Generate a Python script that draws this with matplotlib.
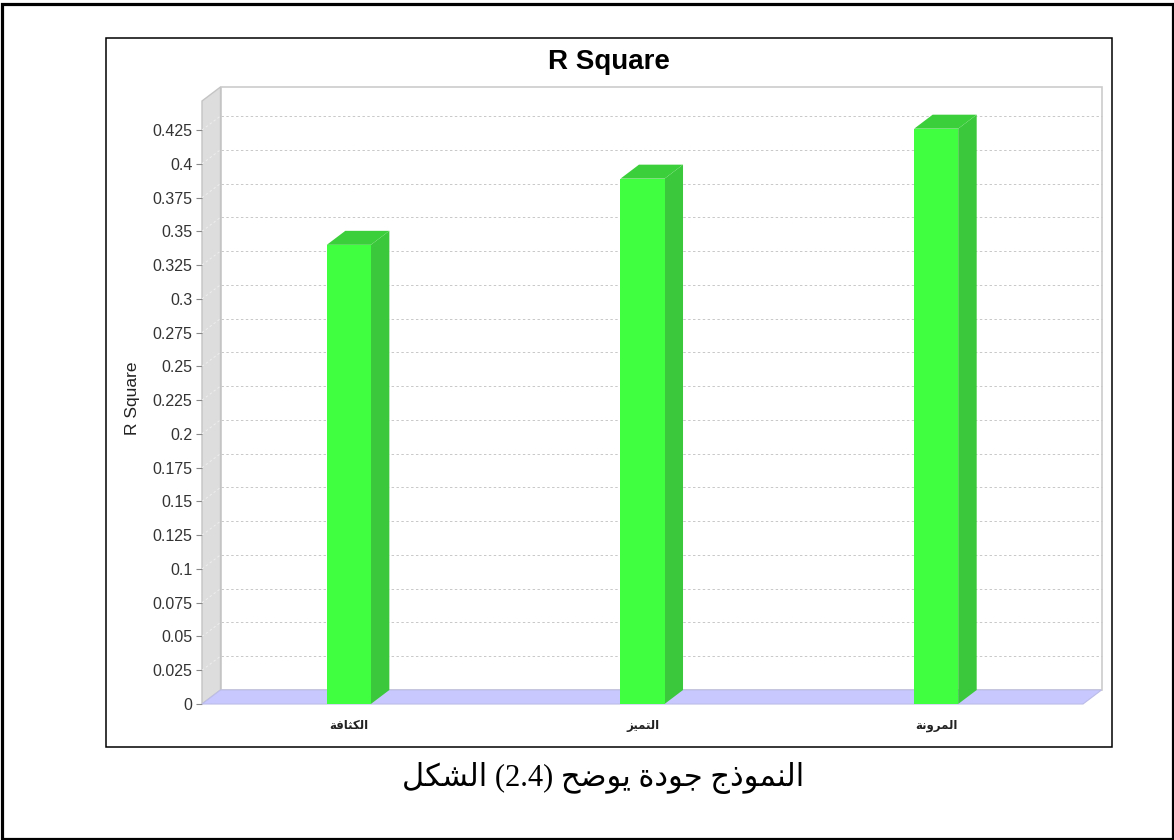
import matplotlib
matplotlib.use("Agg")
import matplotlib.pyplot as plt
from matplotlib.patches import Rectangle, Polygon

# ---------------- data ----------------
title = "R Square"
y_label = "R Square"
categories = ["الكثافة", "التميز", "المرونة"]
r_square = [0.340, 0.389, 0.426]
y_ticks = [0, 0.025, 0.05, 0.075, 0.1, 0.125, 0.15, 0.175, 0.2, 0.225,
           0.25, 0.275, 0.3, 0.325, 0.35, 0.375, 0.4, 0.425]
y_max = 0.4465
caption = "الشكل (2.4) يوضح جودة النموذج"

# ---------------- minimal Arabic shaping ----------------
FORMS = {
    "ا": (0xFE8D, 0xFE8E, None, None),
    "ل": (0xFEDD, 0xFEDE, 0xFEDF, 0xFEE0),
    "ش": (0xFEB5, 0xFEB6, 0xFEB7, 0xFEB8),
    "ك": (0xFED9, 0xFEDA, 0xFEDB, 0xFEDC),
    "ي": (0xFEF1, 0xFEF2, 0xFEF3, 0xFEF4),
    "و": (0xFEED, 0xFEEE, None, None),
    "ض": (0xFEBD, 0xFEBE, 0xFEBF, 0xFEC0),
    "ح": (0xFEA1, 0xFEA2, 0xFEA3, 0xFEA4),
    "ج": (0xFE9D, 0xFE9E, 0xFE9F, 0xFEA0),
    "د": (0xFEA9, 0xFEAA, None, None),
    "ة": (0xFE93, 0xFE94, None, None),
    "ن": (0xFEE5, 0xFEE6, 0xFEE7, 0xFEE8),
    "م": (0xFEE1, 0xFEE2, 0xFEE3, 0xFEE4),
    "ذ": (0xFEAB, 0xFEAC, None, None),
    "ث": (0xFE99, 0xFE9A, 0xFE9B, 0xFE9C),
    "ف": (0xFED1, 0xFED2, 0xFED3, 0xFED4),
    "ر": (0xFEAD, 0xFEAE, None, None),
    "ت": (0xFE95, 0xFE96, 0xFE97, 0xFE98),
    "ز": (0xFEAF, 0xFEB0, None, None),
}


def shape_word(word):
    if not any(c in FORMS for c in word):
        return word
    letters = list(word)
    out = []
    i = 0
    while i < len(letters):
        c = letters[i]
        if c not in FORMS:
            out.append(c)
            i += 1
            continue
        prev = letters[i - 1] if i > 0 else None
        nxt = letters[i + 1] if i + 1 < len(letters) else None
        joins_prev = prev in FORMS and FORMS[prev][2] is not None
        if c == "ل" and nxt == "ا":
            out.append(chr(0xFEFC if joins_prev else 0xFEFB))
            i += 2
            continue
        iso, fin, ini, med = FORMS[c]
        joins_next = ini is not None and nxt in FORMS
        if joins_prev and joins_next:
            g = med
        elif joins_prev:
            g = fin
        elif joins_next:
            g = ini
        else:
            g = iso
        out.append(chr(g))
        i += 1
    return "".join(reversed(out))


def shape_text(text):
    return " ".join(shape_word(w) for w in text.split(" "))


# ---------------- figure ----------------
W, H = 1174, 840
fig = plt.figure(figsize=(W / 100, H / 100), dpi=100)
fig.patch.set_facecolor("white")


def fx(px):
    return px / W


def fy(py):
    return 1 - py / H


# outer frame and chart panel
fig.patches.append(Rectangle((fx(1.5), fy(838.5)), fx(1171), 835 / H, transform=fig.transFigure,
                             fill=False, edgecolor="black", linewidth=2.3))
fig.patches.append(Rectangle((fx(106), fy(747)), fx(1006), 709 / H, transform=fig.transFigure,
                             fill=False, edgecolor="black", linewidth=1.1))

# plot front area (pixels)
left_px, right_px, top_px, bot_px = 202, 1083, 101, 704
ax = fig.add_axes([fx(left_px), fy(bot_px), fx(right_px - left_px), (bot_px - top_px) / H])
ncat = len(categories)
ax.set_xlim(0, ncat)
ax.set_ylim(0, y_max)
for s in ax.spines.values():
    s.set_visible(False)
ax.patch.set_visible(False)

# 3D depth in data units
depth_x_px, depth_y_px = 18.5, 14
DX = depth_x_px / (right_px - left_px) * ncat
DY = depth_y_px / (bot_px - top_px) * y_max

# back wall
ax.add_patch(Rectangle((DX, DY), ncat, y_max, facecolor="white", edgecolor="#cccccc",
                       linewidth=1.2, clip_on=False, zorder=0))
# left wall
ax.add_patch(Polygon([(0, 0), (0, y_max), (DX, y_max + DY), (DX, DY)], closed=True,
                     facecolor="#dddddd", edgecolor="#c4c4c4", linewidth=1.0,
                     clip_on=False, zorder=1))
# grid lines
for t in y_ticks[1:]:
    ax.plot([DX, ncat + DX], [t + DY, t + DY], color="#c8c8c8", linewidth=0.7,
            linestyle=(0, (2.5, 2.5)), clip_on=False, zorder=2)
    ax.plot([0, DX], [t, t + DY], color="#eeeeee", linewidth=0.7,
            linestyle=(0, (2.5, 2.5)), clip_on=False, zorder=2)
# floor
ax.add_patch(Polygon([(0, 0), (ncat, 0), (ncat + DX, DY), (DX, DY)], closed=True,
                     facecolor="#c8c8ff", edgecolor="#bcbce8", linewidth=0.8,
                     clip_on=False, zorder=3))

# bars
bar_w = 0.15
xs = [i + 0.5 for i in range(ncat)]
ax.bar(xs, r_square, width=bar_w, color="#40ff40", edgecolor="none", zorder=6)
for x, v in zip(xs, r_square):
    xr = x + bar_w / 2
    xl = x - bar_w / 2
    ax.add_patch(Polygon([(xr, 0), (xr + DX, DY), (xr + DX, v + DY), (xr, v)], closed=True,
                         facecolor="#3cc83c", edgecolor="none", clip_on=False, zorder=5))
    ax.add_patch(Polygon([(xl, v), (xr, v), (xr + DX, v + DY), (xl + DX, v + DY)], closed=True,
                         facecolor="#3ccf3c", edgecolor="none", clip_on=False, zorder=5))

# axes ticks
ax.set_yticks(y_ticks)
ax.set_yticklabels([f"{round(t, 3):g}" for t in y_ticks], fontsize=11.5,
                   family="Liberation Sans", color="#333333")
ax.tick_params(axis="y", length=4, width=0.8, color="#888888", pad=3)
ax.set_xticks(xs)
ax.set_xticklabels([shape_word(c) for c in categories], fontsize=8.5,
                   family="DejaVu Sans", fontweight="bold", color="#222222")
ax.tick_params(axis="x", length=0, pad=10.5)

# title, y label, caption
fig.text(fx(609), fy(62), title, ha="center", va="center", fontsize=20,
         fontweight="bold", family="Liberation Sans")
fig.text(fx(133), fy(398), y_label, rotation=90, ha="center", va="center",
         fontsize=12.5, family="Liberation Sans", color="#222222")
fig.text(fx(603), fy(778), shape_text(caption), ha="center", va="center",
         fontsize=22, family=["Liberation Serif", "DejaVu Sans"], color="black")

fig.savefig("out.png", dpi=100, facecolor="white")
